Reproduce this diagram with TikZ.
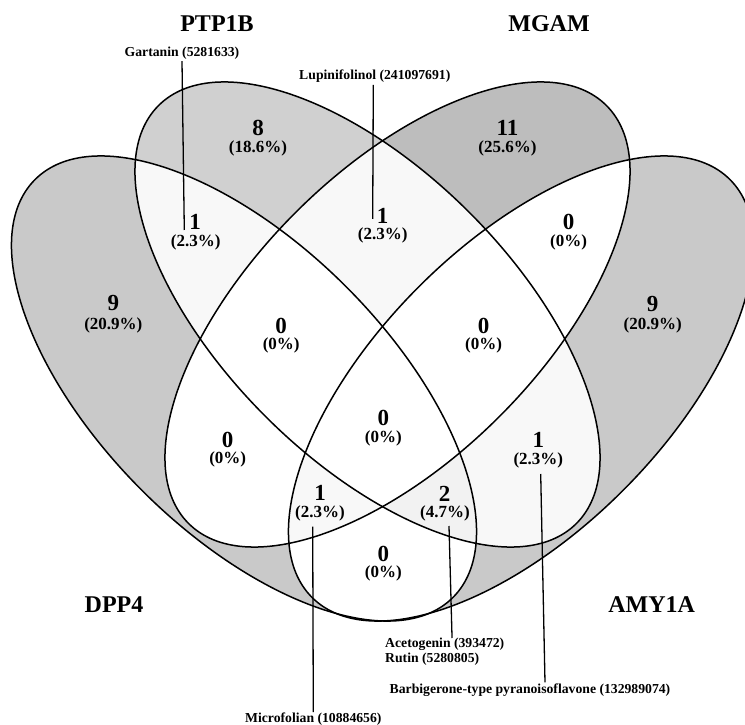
\documentclass[tikz,border=0pt]{standalone}
\usepackage{fontspec}
\setmainfont{Liberation Serif}
\definecolor{gA}{RGB}{201,201,201}
\definecolor{gB}{RGB}{208,208,208}
\definecolor{gC}{RGB}{189,189,189}
\definecolor{gD}{RGB}{201,201,201}
\definecolor{one}{RGB}{248,248,248}
\definecolor{two}{RGB}{242,242,242}
\newcommand\vennA{(244,335.5) circle [x radius=295.5, y radius=144.2, rotate=-45]}
\newcommand\vennB{(367.5,409.5) circle [x radius=295.5, y radius=144.2, rotate=-45]}
\newcommand\vennC{(397.5,409.5) circle [x radius=295.5, y radius=144.2, rotate=45]}
\newcommand\vennD{(521,335.5) circle [x radius=295.5, y radius=144.2, rotate=45]}
\begin{document}
\begin{tikzpicture}[x=1pt,y=1pt,
  outline/.style={draw=black, line width=1.5pt},
  leader/.style={draw=black, line width=1.3pt},
  title/.style={inner sep=0pt, font=\fontsize{24}{28}\selectfont\bfseries},
  cnt/.style={inner sep=0pt, font=\fontsize{23}{26}\selectfont\bfseries},
  pct/.style={inner sep=0pt, font=\fontsize{17}{20}\selectfont\bfseries},
  lbl/.style={inner sep=0pt, font=\fontsize{13.7}{14.5}\selectfont\bfseries}]
\useasboundingbox (0,0) rectangle (745,724);
\fill[white] (0,0) rectangle (745,724);
% single-set fills
\fill[gA] \vennA;
\fill[gB] \vennB;
\fill[gC] \vennC;
\fill[gD] \vennD;
% pairwise
\begin{scope}\clip \vennA; \fill[one] \vennB; \fill[white] \vennC; \fill[white] \vennD; \end{scope}
\begin{scope}\clip \vennB; \fill[one] \vennC; \fill[one] \vennD; \end{scope}
\begin{scope}\clip \vennC; \fill[white] \vennD; \end{scope}
% triples
\begin{scope}\clip \vennA; \clip \vennB; \fill[white] \vennC; \fill[two] \vennD; \end{scope}
\begin{scope}\clip \vennA; \clip \vennC; \fill[one] \vennD; \end{scope}
\begin{scope}\clip \vennB; \clip \vennC; \fill[white] \vennD; \end{scope}
% all four
\begin{scope}\clip \vennA; \clip \vennB; \clip \vennC; \fill[white] \vennD; \end{scope}
% outlines
\path[outline] \vennA;
\path[outline] \vennB;
\path[outline] \vennC;
\path[outline] \vennD;
% titles
\node[title] (tB) at (217,700.7) {PTP1B};
\node[title] (tC) at (549,700.7) {MGAM};
\node[title] (tA) at (114,119) {DPP4};
\node[title] (tD) at (651.7,119) {AMY1A};
% counts
\node[cnt] (nA) at (113.3,420.7) {9};     \node[pct] (pA) at (113.3,399) {(20.9\%)};
\node[cnt] (nB) at (258,596) {8};         \node[pct] (pB) at (258,575.5) {(18.6\%)};
\node[cnt] (nC) at (507.4,595.7) {11};    \node[pct] (pC) at (507.4,575.3) {(25.6\%)};
\node[cnt] (nD) at (652.7,420) {9};       \node[pct] (pD) at (652.7,399) {(20.9\%)};
\node[cnt] (nAB) at (195,502.3) {1};      \node[pct] (pAB) at (195.7,481.6) {(2.3\%)};
\node[cnt] (nBC) at (382.7,508) {1};      \node[pct] (pBC) at (382.7,489) {(2.3\%)};
\node[cnt] (nCD) at (568.6,502.4) {0};    \node[pct] (pCD) at (568.6,481.6) {(0\%)};
\node[cnt] (nABC) at (281.2,398.5) {0};   \node[pct] (pABC) at (281.2,378.7) {(0\%)};
\node[cnt] (nBCD) at (483.6,398.5) {0};   \node[pct] (pBCD) at (483.6,378.7) {(0\%)};
\node[cnt] (nABCD) at (383.3,305.7) {0};  \node[pct] (pABCD) at (383.3,285.7) {(0\%)};
\node[cnt] (nAC) at (227.7,284) {0};      \node[pct] (pAC) at (227.7,264.7) {(0\%)};
\node[cnt] (nBD) at (538.3,284) {1};      \node[pct] (pBD) at (538.3,264) {(2.3\%)};
\node[cnt] (nACD) at (320,230.7) {1};     \node[pct] (pACD) at (320,210.7) {(2.3\%)};
\node[cnt] (nABD) at (444.5,230) {2};     \node[pct] (pABD) at (445,210.7) {(4.7\%)};
\node[cnt] (nAD) at (383.3,170) {0};      \node[pct] (pAD) at (383.3,150.7) {(0\%)};
% compound labels
\node[lbl] (gar) at (182,670.7) {Gartanin (5281633)};
\node[lbl] (lup) at (374.8,647.5) {Lupinifolinol (241097691)};
\node[lbl] (mic) at (313.3,4.5) {Microfolian (10884656)};
\node[lbl, align=left, anchor=north west] (ace) at (385,86) {Acetogenin (393472)\\Rutin (5280805)};
\node[lbl] (bar) at (530,34) {Barbigerone-type pyranoisoflavone (132989074)};
% leader ends
\coordinate (garEnd) at (184.3,494);
\coordinate (lupEnd) at (372.7,505);
\coordinate (micEnd) at (312.7,197.3);
\coordinate (aceEnd) at (449,198);
\coordinate (barEnd) at (540.7,250);
\path[leader] ([yshift=-1.5pt]gar.south) -- (garEnd);
\path[leader] ([xshift=-1.5pt,yshift=-2pt]lup.south) -- (lupEnd);
\path[leader] (micEnd) -- ([yshift=1pt]mic.north);
\path[leader] (aceEnd) -- ([xshift=7.3pt]ace.north);
\path[leader] (barEnd) -- ([xshift=15pt,yshift=1pt]bar.north);
\end{tikzpicture}
\end{document}
